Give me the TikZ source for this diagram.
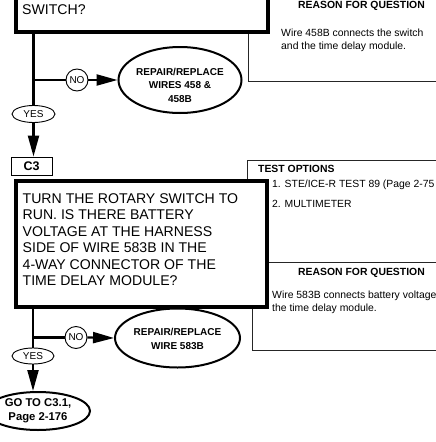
\documentclass[tikz,border=0pt]{standalone}
\usepackage{fontspec}
\setmainfont{Liberation Sans}
\usetikzlibrary{shapes.geometric,arrows.meta}
\begin{document}
\begin{tikzpicture}[x=1pt,y=-1pt,
  thickbox/.style={draw=black,line width=4pt,fill=white,inner sep=0pt},
  panel/.style={draw=black!85,line width=0.9pt,fill=white},
  conn/.style={line width=2.2pt},
  arr/.style={line width=2.2pt,-{Triangle[length=21pt,width=11pt]}},
  oval/.style={ellipse,draw,line width=2pt,fill=white,inner sep=0pt},
  tag/.style={ellipse,draw,line width=0.9pt,fill=white,inner sep=0pt,font=\fontsize{10}{11}\selectfont},
  ring/.style={circle,draw,line width=0.9pt,fill=white,inner sep=0pt,minimum size=22pt,font=\fontsize{10}{11}\selectfont},
  qtext/.style={anchor=base west,inner sep=0pt,font=\fontsize{14.1}{16.5}\selectfont},
  ptext/.style={anchor=base west,inner sep=0pt,font=\fontsize{10.4}{13}\selectfont},
  phead/.style={anchor=base,inner sep=0pt,font=\fontsize{10.4}{13}\selectfont\bfseries},
  otext/.style={align=center,inner sep=0pt,font=\fontsize{10}{13.5}\selectfont\bfseries},
]
\useasboundingbox (0,0) rectangle (436,442);
\clip (0,0) rectangle (436,442);

% ---- upper right panel
\draw[panel] (248,-20) rectangle (480,81);
\node[phead] (rq1) at (361.5,8) {REASON FOR QUESTION};
\node[ptext] (rt1) at (281,36) {Wire 458B connects the switch};
\node[ptext] (rt2) at (281,49) {and the time delay module.};

% ---- top question box
\node[thickbox,minimum width=252pt,minimum height=80pt,anchor=south west] (topbox) at (14,33.5) {};
\node[qtext] (q0) at (22,14) {SWITCH?};

% ---- lower right panels
\draw[panel] (247,160) rectangle (480,262);
\draw[panel] (252,262) rectangle (480,350);
\node[anchor=base west,inner sep=0pt,font=\fontsize{10.4}{13}\selectfont\bfseries] (tohead) at (258,172) {TEST OPTIONS};
\node[ptext] (o1) at (272,187.5) {1. STE/ICE-R TEST 89 (Page 2-75};
\node[ptext] (o2) at (272,207.5) {2. MULTIMETER};
\node[phead] (rq2) at (361.5,275) {REASON FOR QUESTION};
\node[ptext] (rt3) at (272,298) {Wire 583B connects battery voltage};
\node[ptext] (rt4) at (272,311) {the time delay module.};

% ---- main question box C3
\node[thickbox,minimum width=251pt,minimum height=126pt,anchor=north west] (mainbox) at (14,179) {};
\node[qtext] (q1) at (22.5,203) {TURN THE ROTARY SWITCH TO};
\node[qtext] (q2) at (22.5,219.5) {RUN. IS THERE BATTERY};
\node[qtext] (q3) at (22.5,236) {VOLTAGE AT THE HARNESS};
\node[qtext] (q4) at (22.5,252.5) {SIDE OF WIRE 583B IN THE};
\node[qtext] (q5) at (22.5,269) {4-WAY CONNECTOR OF THE};
\node[qtext] (q6) at (22.5,285.5) {TIME DELAY MODULE?};

\node[draw,line width=0.9pt,fill=white,minimum width=41pt,minimum height=18pt,inner sep=0pt,font=\fontsize{12.5}{13}\selectfont\bfseries] (c3) at (31.5,166) {C3};

% ---- upper flow
\node[tag,minimum width=43pt,minimum height=17pt] (yes1) at (33.5,114) {YES};
\node[ring] (no1) at (77,80) {NO};
\node[oval,minimum width=123pt,minimum height=66pt] (rep1) at (180,80) {};
\node[otext] (rep1t) at (180,85) {REPAIR/REPLACE\\WIRES 458 \&\\458B};
\coordinate (j1) at (33.5,80);
\draw[conn] (topbox.south -| yes1.center) -- (yes1.north);
\draw[conn] (j1) -- (no1.west);
\draw[arr] (no1.east) -- (rep1.west);
\draw[arr] (yes1.south) -- (yes1.south |- c3.north);

% ---- lower flow
\node[tag,minimum width=42pt,minimum height=16pt] (yes2) at (33,356) {YES};
\node[ring] (no2) at (76,337.5) {NO};
\node[oval,minimum width=125pt,minimum height=59pt] (rep2) at (177.5,338) {};
\node[otext] (rep2t) at (177.5,339) {REPAIR/REPLACE\\WIRE 583B};
\node[oval,minimum width=104pt,minimum height=38pt] (goto) at (38,411) {};
\node[otext,font=\fontsize{11.3}{14}\selectfont\bfseries] (gotot) at (38,410.5) {GO TO C3.1,\\Page 2-176};
\coordinate (j2) at (33,337.5);
\draw[conn] (mainbox.south -| yes2.center) -- (yes2.north);
\draw[conn] (j2) -- (no2.west);
\draw[arr] (no2.east) -- (rep2.west);
\draw[arr] (yes2.south) -- (yes2.south |- goto.north);
\end{tikzpicture}
\end{document}
